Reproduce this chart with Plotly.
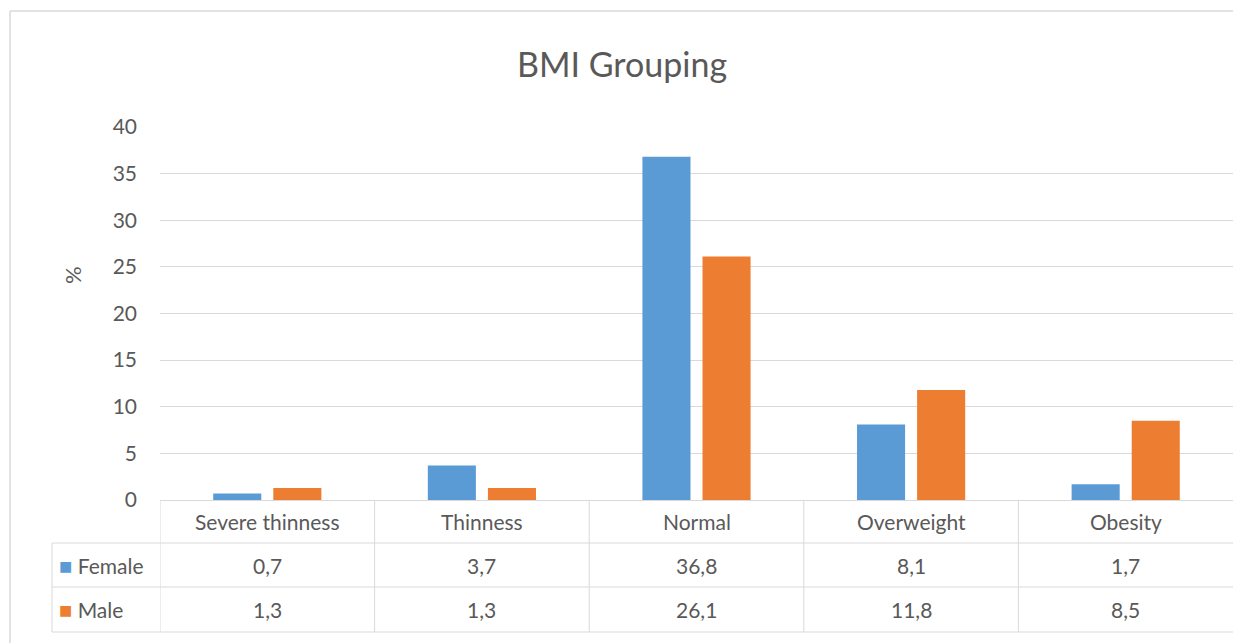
import plotly.graph_objects as go

categories = ["Severe thinness", "Thinness", "Normal", "Overweight", "Obesity"]
female = [0.7, 3.7, 36.8, 8.1, 1.7]
male = [1.3, 1.3, 26.1, 11.8, 8.5]
series_names = ["Female", "Male"]
colors = ["#5B9BD5", "#ED7D31"]
y_ticks = [0, 5, 10, 15, 20, 25, 30, 35, 40]

W, H = 1233, 643
L, R, T, B = 160, 0, 127, 143
PW, PH = W - L - R, H - T - B
FONT = "Lato, 'Open Sans', sans-serif"
TXT = "#595959"
GRID = "#D9D9D9"


def px_x(p):
    return (p - L) / PW


def px_y(p):
    return (H - B - p) / PH


fig = go.Figure()
for name, vals, col in zip(series_names, [female, male], colors):
    fig.add_trace(go.Bar(x=categories, y=vals, name=name, marker_color=col,
                         marker_line_width=0, showlegend=False))

shapes = []
annotations = []
n = len(categories)
row_lines = [543, 587, 632]
for yp in row_lines:
    shapes.append(dict(type="line", xref="paper", yref="paper", x0=px_x(52), x1=1,
                       y0=px_y(yp), y1=px_y(yp), line=dict(color=GRID, width=1)))
for k in range(n):
    shapes.append(dict(type="line", xref="x", yref="paper", x0=k - 0.5, x1=k - 0.5,
                       y0=0, y1=px_y(632), line=dict(color=GRID, width=1)))
shapes.append(dict(type="line", xref="paper", yref="paper", x0=px_x(52), x1=px_x(52),
                   y0=px_y(543), y1=px_y(632), line=dict(color=GRID, width=1)))
# outer chart border (left and top)
shapes.append(dict(type="line", xref="paper", yref="paper", x0=px_x(10), x1=px_x(10),
                   y0=px_y(11), y1=px_y(H + 5), line=dict(color=GRID, width=1.5)))
shapes.append(dict(type="line", xref="paper", yref="paper", x0=px_x(10), x1=1.01,
                   y0=px_y(11), y1=px_y(11), line=dict(color=GRID, width=1.5)))

tfont = dict(family=FONT, size=21, color=TXT)
for k, c in enumerate(categories):
    annotations.append(dict(x=c, xref="x", y=px_y(521.5), yref="paper", text=c,
                            xanchor="center", yanchor="middle",
                            showarrow=False, font=tfont))
    for vals, yp in [(female, 565), (male, 609)]:
        annotations.append(dict(x=c, xref="x", y=px_y(yp), yref="paper",
                                xanchor="center", yanchor="middle",
                                text=f"{vals[k]:.1f}".replace(".", ","),
                                showarrow=False, font=tfont))
for name, col, yp in zip(series_names, colors, [565, 609]):
    annotations.append(dict(x=px_x(57), xref="paper", y=px_y(yp), yref="paper",
                            xanchor="left", yanchor="middle",
                            text=f"<span style='color:{col};font-size:22px'>■</span> {name}",
                            showarrow=False, font=tfont))
annotations.append(dict(x=px_x(72), xref="paper", y=px_y(275), yref="paper",
                        xanchor="center", yanchor="middle",
                        text="%", textangle=-90, showarrow=False,
                        font=dict(family=FONT, size=22, color=TXT)))

fig.update_layout(
    width=W, height=H,
    margin=dict(l=L, r=R, t=T, b=B, pad=0),
    paper_bgcolor="white", plot_bgcolor="white",
    title=dict(text="BMI Grouping", x=622 / W, xanchor="center",
               y=1 - 65 / H, yanchor="middle",
               font=dict(family=FONT, size=34, color=TXT)),
    barmode="group", bargap=0.44, bargroupgap=0.2,
    xaxis=dict(showticklabels=False, showgrid=False, zeroline=False,
               showline=False, ticks="", range=[-0.5, n - 0.5]),
    yaxis=dict(range=[0, 40], tickvals=y_ticks, showgrid=True, gridcolor=GRID,
               gridwidth=1, zeroline=True, zerolinecolor=GRID, zerolinewidth=1,
               ticks="", ticklabelstandoff=22,
               tickfont=dict(family=FONT, size=21, color=TXT)),
    shapes=shapes, annotations=annotations,
)

fig.write_html("out.html")
